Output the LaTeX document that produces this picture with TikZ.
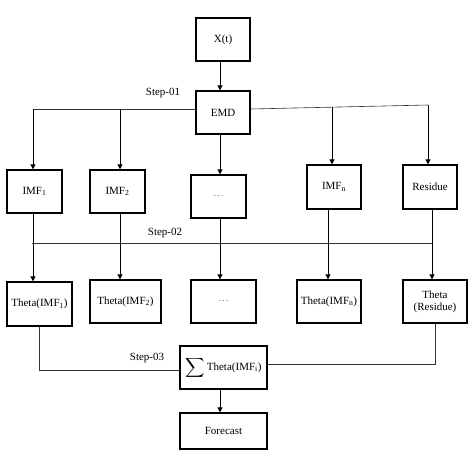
\documentclass[tikz,border=0pt]{standalone}
\usepackage{fontspec}
\setmainfont{Liberation Serif}
\usetikzlibrary{arrows.meta,calc}
\begin{document}
\begin{tikzpicture}[x=1pt,y=-1pt,
  box/.style={draw,line width=1.3pt,minimum width=#1,inner sep=1pt,align=center,font=\fontsize{11}{12}\selectfont},
  box/.default=54pt,
  ln/.style={draw=black!80,line width=0.6pt},
  arr/.style={draw=black,line width=0.8pt,-{Triangle[length=5pt,width=5pt]}},
  lbl/.style={font=\fontsize{11}{12}\selectfont}]
\useasboundingbox (0,0) rectangle (474,474);
% nodes
\node[box,minimum height=43pt] (xt) at (223,39.5) {X(t)};
\node[box,minimum height=43pt] (emd) at (223,112.5) {EMD};
\node[box=55pt,minimum height=43pt] (imf1) at (34.5,191.5) {IMF\textsubscript{1}};
\node[box=55pt,minimum height=43pt] (imf2) at (117.5,191.5) {IMF\textsubscript{2}};
\node[box=55pt,minimum height=43pt] (d1) at (218.5,196.5) {\color{black!50}\dots};
\node[box=54pt,minimum height=44pt] (imfn) at (334,187) {IMF\textsubscript{n}};
\node[box=54pt,minimum height=44pt] (res) at (430,187) {Residue};
\node[box=65pt,minimum height=44pt] (th1) at (39.5,304) {Theta(IMF\textsubscript{1})};
\node[box=71pt,minimum height=43pt] (th2) at (125.5,301.5) {Theta(IMF\textsubscript{2})};
\node[box=65pt,minimum height=43pt] (d2) at (223.5,301.5) {\color{black!50}\dots};
\node[box=64pt,minimum height=43pt] (thn) at (329,301.5) {Theta(IMF\textsubscript{n})};
\node[box=64pt,minimum height=43pt] (thr) at (435,301.5) {Theta\\(Residue)};
\node[box=87pt,minimum height=43pt] (sum) at (223.5,367.5) {\raisebox{-1pt}{\scalebox{1.35}{$\displaystyle\sum$}}\,Theta(IMF\textsubscript{i})};
\node[box=87pt,minimum height=36pt] (fc) at (223.5,431) {Forecast};
% labels
\node[lbl] (s1) at (163,93) {Step-01};
\node[lbl] (s2) at (165,233) {Step-02};
\node[lbl] (s3) at (147,358) {Step-03};
% coordinates
\coordinate (l1) at (33,109);
\coordinate (l2) at (120,109);
\coordinate (r1) at (428,105);
\coordinate (rn) at (332,107.2);
\coordinate (h1) at (32,243);
\coordinate (h2) at (432,243);
\coordinate (c1) at (33,0);
\coordinate (c2) at (120,0);
\coordinate (c3) at (220,0);
\coordinate (cn) at (328,0);
\coordinate (cr) at (432,0);
% step 1
\draw[arr] (xt.south -| c3) -- (emd.north -| c3);
\draw[ln] ([yshift=3.5pt]emd.west) -- (l1);
\draw[arr] (l1) -- (imf1.north -| l1);
\draw[arr] (l2) -- (imf2.north -| l2);
\draw[arr] (emd.south -| c3) -- (d1.north -| c3);
\draw[ln] ([yshift=3.5pt]emd.east) -- (r1);
\draw[arr] (r1) -- (res.north -| r1);
\draw[arr] (rn) -- (imfn.north -| rn);
% step 2
\draw[ln] (h1) -- (h2);
\draw[arr] (imf1.south -| c1) -- (th1.north -| c1);
\draw[arr] (imf2.south -| c2) -- (th2.north -| c2);
\draw[arr] (d1.south -| c3) -- (d2.north -| c3);
\draw[arr] (imfn.south -| cn) -- (thn.north -| cn);
\draw[arr] (res.south -| cr) -- (thr.north -| cr);
% step 3
\draw[ln] (th1.south) |- ([yshift=-2.5pt]sum.west);
\draw[ln] (thr.south) |- ([yshift=3.5pt]sum.east);
\draw[arr] (sum.south -| c3) -- (fc.north -| c3);
\end{tikzpicture}
\end{document}
